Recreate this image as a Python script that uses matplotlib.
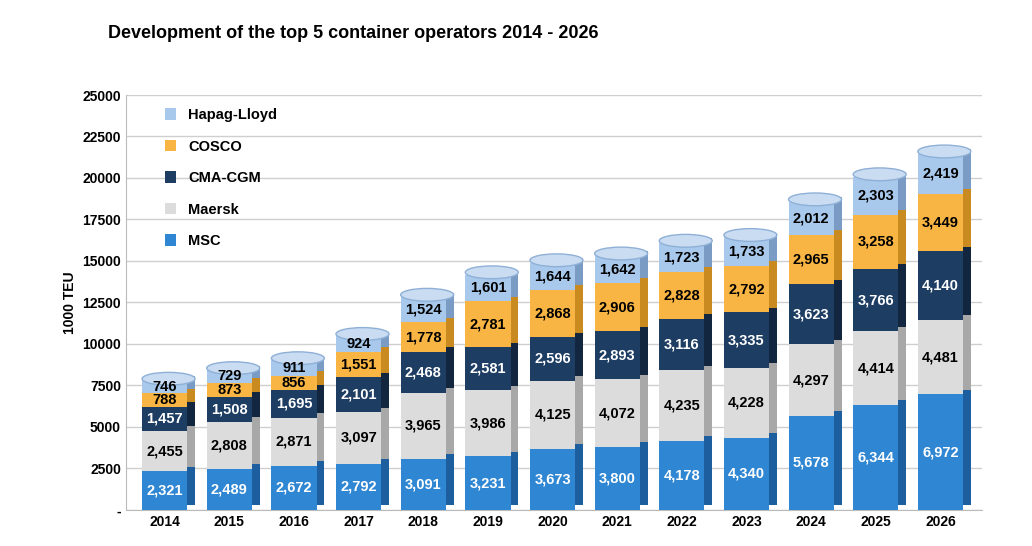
import matplotlib
matplotlib.use("Agg")
import matplotlib.pyplot as plt
import numpy as np

years = ["2014", "2015", "2016", "2017", "2018", "2019", "2020",
         "2021", "2022", "2023", "2024", "2025", "2026"]
msc = [2321, 2489, 2672, 2792, 3091, 3231, 3673, 3800, 4178, 4340, 5678, 6344, 6972]
maersk = [2455, 2808, 2871, 3097, 3965, 3986, 4125, 4072, 4235, 4228, 4297, 4414, 4481]
cma = [1457, 1508, 1695, 2101, 2468, 2581, 2596, 2893, 3116, 3335, 3623, 3766, 4140]
cosco = [788, 873, 856, 1551, 1778, 2781, 2868, 2906, 2828, 2792, 2965, 3258, 3449]
hapag = [746, 729, 911, 924, 1524, 1601, 1644, 1642, 1723, 1733, 2012, 2303, 2419]
yticks = [0, 2500, 5000, 7500, 10000, 12500, 15000, 17500, 20000, 22500, 25000]

series = [
    ("MSC", msc, "#2f86d2", "#1d5f9e", "white"),
    ("Maersk", maersk, "#dcdcdc", "#a8a8a8", "black"),
    ("CMA-CGM", cma, "#1e3d63", "#12263f", "white"),
    ("COSCO", cosco, "#f8b543", "#c98a20", "black"),
    ("Hapag-Lloyd", hapag, "#a8c9ec", "#7a9cc4", "black"),
]

plt.rcParams["font.family"] = ["Liberation Sans", "DejaVu Sans"]
fig = plt.figure(figsize=(10.32, 5.46), dpi=100)
ax = fig.add_axes([0.122, 0.066, 0.83, 0.76])

x = np.arange(len(years))
w = 0.7
dx, dy = 0.12, 550
bottom = np.zeros(len(years))
handles = []
for name, vals, col, dark, tc in series:
    vals = np.array(vals, dtype=float)
    # side face for a pseudo-3D look
    ax.bar(x + dx, vals, w, bottom=bottom + dy * 0.5, color=dark, zorder=2)
    h = ax.bar(x, vals, w, bottom=bottom, color=col, zorder=3, label=name)
    handles.append(h)
    for xi, b, v in zip(x, bottom, vals):
        ax.text(xi, b + v / 2, f"{int(v):,}", ha="center", va="center",
                fontsize=10.5, fontweight="bold", color=tc, zorder=5)
    bottom += vals
# top caps
for xi, top in zip(x, bottom):
    ax.add_patch(matplotlib.patches.Ellipse((xi + dx / 2, top + dy * 0.25), w + dx, dy * 1.4,
                                            color="#c9dcf2", ec="#8fb0d6", zorder=4))

ax.set_xlim(-0.6, len(years) - 0.35)
ax.set_ylim(0, 25000)
ax.set_yticks(yticks)
ax.set_yticklabels(["-"] + [str(t) for t in yticks[1:]], fontsize=10, fontweight="bold")
ax.set_xticks(x)
ax.set_xticklabels(years, fontsize=10, fontweight="bold")
ax.yaxis.grid(True, color="#cfcfcf", lw=1, zorder=0)
for s in ["top", "right"]:
    ax.spines[s].set_visible(False)
ax.spines["left"].set_color("#bbbbbb")
ax.spines["bottom"].set_color("#bbbbbb")
ax.tick_params(length=0)
ax.set_ylabel("1000 TEU", fontsize=10, fontweight="bold")

ax.legend(handles[::-1], [s[0] for s in series][::-1], loc="upper left",
          bbox_to_anchor=(0.03, 1.0), frameon=False, labelspacing=1.2,
          handlelength=0.8, handleheight=0.8,
          prop={"weight": "bold", "size": 10.5})

fig.text(0.105, 0.93, "Development of the top 5 container operators 2014 - 2026",
         fontsize=13, fontweight="bold")

fig.savefig("out.png", dpi=100)
